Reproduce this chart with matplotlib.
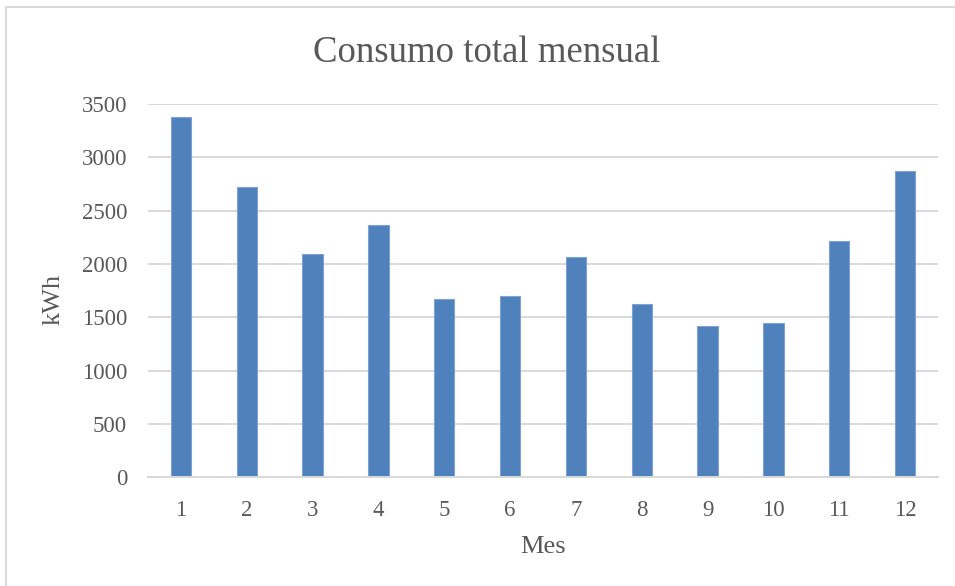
import matplotlib.pyplot as plt
from matplotlib.patches import Rectangle

# monthly totals (kWh)
meses = [1, 2, 3, 4, 5, 6, 7, 8, 9, 10, 11, 12]
consumo = [3380, 2720, 2095, 2370, 1670, 1700, 2065, 1625, 1415, 1450, 2220, 2870]
yticks = [0, 500, 1000, 1500, 2000, 2500, 3000, 3500]

plt.rcParams['font.family'] = ['Liberation Serif', 'DejaVu Serif']
gris = '#595959'
linea = '#d9d9d9'

W, H = 955, 586
fig = plt.figure(figsize=(W / 100, H / 100), dpi=100)
ax = fig.add_axes([148 / W, 1 - 477.3 / H, (938 - 148) / W, (477.3 - 104) / H])

ax.bar(meses, consumo, width=0.31, color='#4f81bd', edgecolor='#7ea3d3',
       linewidth=0.8, zorder=3)

ax.set_xlim(0.5, 12.5)
ax.set_ylim(0, 3500)
ax.set_xticks(meses)
ax.set_yticks(yticks)
ax.grid(axis='y', color=linea, linewidth=1.4, zorder=0)
ax.set_axisbelow(True)
for s in ['top', 'right', 'left']:
    ax.spines[s].set_visible(False)
ax.spines['bottom'].set_color(linea)
ax.spines['bottom'].set_linewidth(1.4)
ax.spines['bottom'].set_zorder(4)
ax.tick_params(axis='both', length=0, labelsize=16.5, labelcolor=gris)
ax.tick_params(axis='y', pad=15)
ax.tick_params(axis='x', pad=16)

fig.text(487 / W, 1 - 62 / H, 'Consumo total mensual', ha='center',
         va='baseline', fontsize=26.5, color=gris)
fig.text(543 / W, 1 - 553 / H, 'Mes', ha='center', va='baseline',
         fontsize=19, color=gris)
fig.text(54 / W, 1 - 299 / H, 'kWh', ha='center', va='center',
         rotation=90, fontsize=19, color=gris)

# chart-area border (only top and left edges are inside the crop)
fig.patches.append(Rectangle((6 / W, -0.1), 1.2, 1.1 - 7 / H,
                             transform=fig.transFigure, fill=False,
                             edgecolor=linea, linewidth=1.4))

fig.savefig('out.png', dpi=100)
